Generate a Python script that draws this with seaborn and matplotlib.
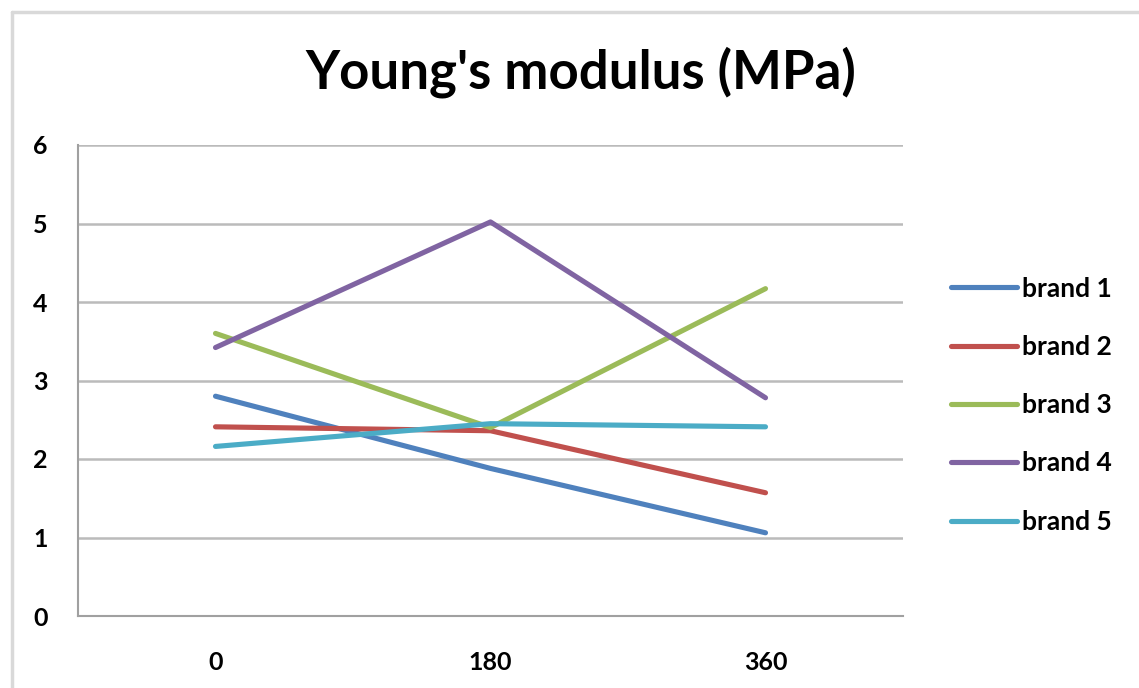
import matplotlib
matplotlib.use("Agg")
import matplotlib.pyplot as plt
import seaborn as sns
import pandas as pd
from matplotlib.lines import Line2D

categories = ["0", "180", "360"]
brand_names = ["brand 1", "brand 2", "brand 3", "brand 4", "brand 5"]
brand1 = [2.80, 1.88, 1.06]
brand2 = [2.41, 2.36, 1.57]
brand3 = [3.60, 2.40, 4.17]
brand4 = [3.42, 5.02, 2.78]
brand5 = [2.16, 2.45, 2.41]
y_ticks = [0, 1, 2, 3, 4, 5, 6]
title = "Young's modulus (MPa)"

series = [brand1, brand2, brand3, brand4, brand5]
rows = []
for name, vals in zip(brand_names, series):
    for i, (c, v) in enumerate(zip(categories, vals)):
        rows.append({"pos": i, "cat": c, "brand": name, "value": v})
df = pd.DataFrame(rows)

colors = ["#4F81BD", "#C0504D", "#9BBB59", "#8064A2", "#4BACC6"]

sns.set_style("white")
plt.rcParams["font.family"] = ["Lato", "DejaVu Sans"]
plt.rcParams["text.color"] = "black"

fig = plt.figure(figsize=(11.39, 6.88), dpi=100)
W, H = 1139, 688
ax = fig.add_axes([78 / W, 1 - 616 / H, (903 - 78) / W, (616 - 145) / H])

sns.lineplot(data=df, x="pos", y="value", hue="brand", palette=colors,
             linewidth=3.7, ax=ax, legend=False, solid_capstyle="round")

ax.set_xlim(-0.5, 2.5)
ax.set_ylim(0, 6)
ax.set_yticks(y_ticks)
ax.set_yticklabels([str(t) for t in y_ticks], fontsize=18, fontweight="bold", color="black")
ax.set_xticks(range(len(categories)))
ax.set_xticklabels(categories, fontsize=18, fontweight="bold", color="black")
ax.set_xticks([-0.5, 0.5, 1.5, 2.5], minor=True)
ax.tick_params(axis="x", which="major", length=0, pad=25)
ax.tick_params(axis="x", which="minor", length=5, color="#A0A0A0", width=1.2)
ax.tick_params(axis="y", length=8, color="#A0A0A0", width=1.2, pad=14)
ax.set_xlabel("")
ax.set_ylabel("")
ax.grid(axis="y", color="#BBBBBB", linewidth=1.8)
ax.grid(axis="x", visible=False)
ax.set_axisbelow(True)
for s in ["top", "right"]:
    ax.spines[s].set_visible(False)
for s in ["left", "bottom"]:
    ax.spines[s].set_color("#A0A0A0")
    ax.spines[s].set_linewidth(1.5)

handles = [Line2D([0], [0], color=c, linewidth=3.7, solid_capstyle="round") for c in colors]
fig.legend(handles, brand_names, loc="upper left",
           bbox_to_anchor=(940 / W, 1 - 266 / H), frameon=False,
           prop={"size": 19, "weight": "bold"}, handlelength=2.5,
           handletextpad=0.2, labelspacing=1.30, borderaxespad=0)

fig.text(581 / W, 1 - 72 / H, title, ha="center", va="center",
         fontsize=38, fontweight="bold", color="black")

# chart border (left and top visible)
fig.add_artist(Line2D([12 / W, 12 / W], [0, 1 - 12 / H], transform=fig.transFigure,
                      color="#D9D9D9", linewidth=2.5))
fig.add_artist(Line2D([12 / W, 1], [1 - 12 / H, 1 - 12 / H], transform=fig.transFigure,
                      color="#D9D9D9", linewidth=2.5))

fig.savefig("out.png", dpi=100)
